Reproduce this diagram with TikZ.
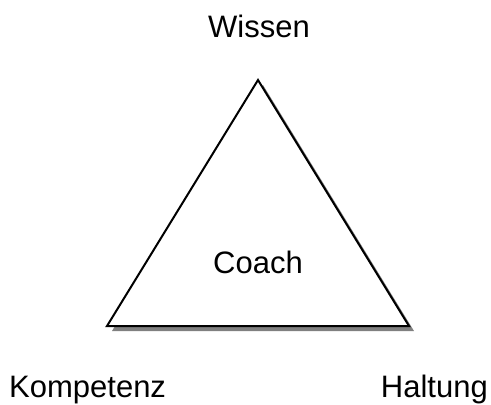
\documentclass[tikz,border=0pt]{standalone}
\usepackage{fontspec}
\setmainfont{Liberation Sans}
\begin{document}
\begin{tikzpicture}[x=1pt,y=-1pt,
  lbl/.style={font=\fontsize{31}{37}\selectfont, inner sep=0pt, anchor=base},
  tri/.style={draw=black, line width=2pt, fill=white, line join=miter},
  shadowtri/.style={fill=black!50}]
\useasboundingbox (0,0) rectangle (491,405);
\coordinate (A) at (258,80);
\coordinate (B) at (107,326);
\coordinate (C) at (409,326);
\fill[shadowtri] ([shift={(5,5)}]A) -- ([shift={(5,5)}]B) -- ([shift={(5,5)}]C) -- cycle;
\draw[tri] (A) -- (B) -- (C) -- cycle;
\node[lbl] (wissen) at (259,37) {Wissen};
\node[lbl] (coach) at (258,273) {Coach};
\node[lbl, anchor=base west] (komp) at (9,397) {Kompetenz};
\node[lbl, anchor=base east] (halt) at (488,397) {Haltung};
\end{tikzpicture}
\end{document}
